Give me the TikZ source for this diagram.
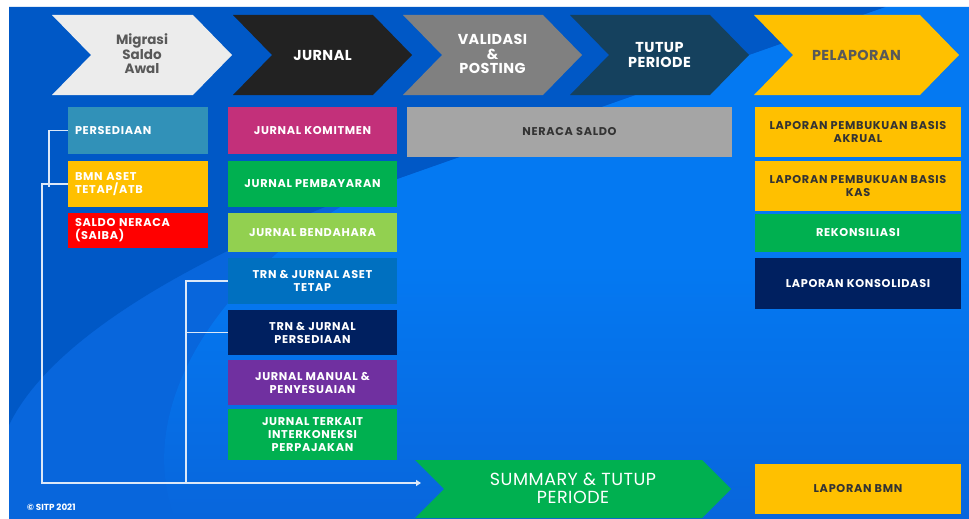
\documentclass[tikz,border=0pt]{standalone}
\usepackage{fontspec}
\setmainfont{Poppins}
\usetikzlibrary{arrows.meta,calc}
\definecolor{bgDark}{HTML}{0058C6}
\definecolor{bgMid}{HTML}{0866DC}
\definecolor{bgBright}{HTML}{0479F2}
\definecolor{cLight}{HTML}{ECECEC}
\definecolor{cBlack}{HTML}{222222}
\definecolor{cGrey}{HTML}{808080}
\definecolor{cTeal}{HTML}{15415E}
\definecolor{cYellow}{HTML}{FFC000}
\definecolor{cPers}{HTML}{3191B8}
\definecolor{cRed}{HTML}{FF0000}
\definecolor{cMag}{HTML}{C3307A}
\definecolor{cGreen}{HTML}{00B050}
\definecolor{cLime}{HTML}{92D050}
\definecolor{cBlue}{HTML}{0070C0}
\definecolor{cNavy}{HTML}{002060}
\definecolor{cPurple}{HTML}{7030A0}
\definecolor{cNeraca}{HTML}{A5A5A5}
\definecolor{cDarkTxt}{HTML}{333333}
\definecolor{cChevTxt}{HTML}{595959}
\definecolor{cLine}{HTML}{DCE8F8}
\newcommand\chevshape[5]{%
  \fill[#5] (#1,#3) -- ({#2-39},#3) -- (#2,{(#3+#4)/2}) -- ({#2-39},#4) -- (#1,#4) -- ({#1+39},{(#3+#4)/2}) -- cycle;}
\begin{document}
\begin{tikzpicture}[x=1pt,y=-1pt,
  box/.style={rectangle, inner sep=0pt, align=center, text=white,
    font=\bfseries\fontsize{11.3}{13}\selectfont\addfontfeatures{LetterSpace=6}},
  chevlabel/.style={align=center, font=\bfseries\fontsize{14.4}{14.5}\selectfont\addfontfeatures{LetterSpace=3}},
  conn/.style={draw=cLine, line width=1.6pt}]
\useasboundingbox (0,0) rectangle (969,519);
\fill[white] (0,0) rectangle (969,519);
% background
\fill[bgMid] (9,7) rectangle (969,519);
\shade[top color=bgBright, bottom color=bgMid, middle color=bgBright]
  (885,7) -- (969,7) -- (969,519) -- (175,519) .. controls (130,400) and (230,260) .. (380,185) -- cycle;
\fill[bgDark] (9,7) -- (885,7) -- (380,185) .. controls (250,235) and (60,320) .. (9,425) -- cycle;
% top chevrons
\chevshape{52}{232}{15}{95}{cLight}
\chevshape{233}{412}{15}{95}{cBlack}
\chevshape{403}{582}{15}{95}{cGrey}
\chevshape{570}{749}{15}{95}{cTeal}
\chevshape{754}{959}{15}{95}{cYellow}
\node[chevlabel, text=cChevTxt, font=\bfseries\fontsize{13.5}{14.5}\selectfont] (migrasi) at (142,54) {Migrasi\\Saldo\\Awal};
\node[chevlabel, text=white] (jurnal) at (322.5,55) {JURNAL};
\node[chevlabel, text=white] (validasi) at (492.5,54) {VALIDASI\\\&\\POSTING};
\node[chevlabel, text=white] (tutup) at (659.5,55) {TUTUP\\PERIODE};
\node[chevlabel, text=cChevTxt] (pelaporan) at (856.5,55) {PELAPORAN};
% left column
\node[box, fill=cPers, minimum width=140, minimum height=47, text width=126, align=left] (pers) at (138,130.5) {PERSEDIAAN};
\node[box, fill=cYellow, minimum width=140, minimum height=46, text width=126, align=left] (bmn) at (138,184) {BMN ASET\\TETAP/ATB};
\node[box, fill=cRed, minimum width=140, minimum height=35, text width=126, align=left] (saiba) at (138,230.5) {SALDO NERACA\\(SAIBA)};
% middle column
\node[box, fill=cMag, minimum width=169, minimum height=47] (komit) at (312.5,130.5) {JURNAL KOMITMEN};
\node[box, fill=cGreen, minimum width=169, minimum height=46] (bayar) at (312.5,184) {JURNAL PEMBAYARAN};
\node[box, fill=cLime, minimum width=169, minimum height=39] (benda) at (312.5,232.5) {JURNAL BENDAHARA};
\node[box, fill=cBlue, minimum width=169, minimum height=46] (trna) at (312.5,281) {TRN \& JURNAL ASET\\TETAP};
\node[box, fill=cNavy, minimum width=169, minimum height=45] (trnp) at (312.5,332.5) {TRN \& JURNAL\\PERSEDIAAN};
\node[box, fill=cPurple, minimum width=169, minimum height=45] (manual) at (312.5,382.5) {JURNAL MANUAL \&\\PENYESUAIAN};
\node[box, fill=cGreen, minimum width=169, minimum height=51] (terkait) at (312.5,434.5) {JURNAL TERKAIT\\INTERKONEKSI\\PERPAJAKAN};
% neraca saldo
\node[box, fill=cNeraca, text=cDarkTxt, minimum width=325, minimum height=50] (neraca) at (569.5,132) {NERACA SALDO};
% right column
\node[box, fill=cYellow, text=cDarkTxt, minimum width=206, minimum height=50] (akrual) at (858,132) {LAPORAN PEMBUKUAN BASIS\\AKRUAL};
\node[box, fill=cYellow, text=cDarkTxt, minimum width=206, minimum height=50] (kas) at (858,186) {LAPORAN PEMBUKUAN BASIS\\KAS};
\node[box, fill=cGreen, minimum width=206, minimum height=38] (rekon) at (858,233) {REKONSILIASI};
\node[box, fill=cNavy, minimum width=206, minimum height=51] (konsol) at (858,283.5) {LAPORAN KONSOLIDASI};
\node[box, fill=cYellow, text=cDarkTxt, minimum width=206, minimum height=50] (lapbmn) at (858,489) {LAPORAN BMN};
% summary chevron
\fill[cGreen] (415,460) -- (702,460) -- (731,489) -- (702,518) -- (415,518) -- (444,489) -- cycle;
\node[align=center, text=white, font=\fontsize{17.5}{17.5}\selectfont\addfontfeatures{LetterSpace=3}] (summary) at (573,488.5) {SUMMARY \& TUTUP\\PERIODE};
% connectors
\coordinate (j1) at (49,187);
\coordinate (c1) at (42,483);
\coordinate (c2) at (186,483);
\coordinate (sumin) at (421,483);
\draw[conn] (pers.west) -| (j1);
\draw[conn, -{Triangle[length=5pt,width=6pt]}] (bmn.west) -| (c1) -- (sumin);
\draw[conn] (trna.west) -| (c2);
\draw[conn] (trnp.west) -- (trnp.west -| c2);
% copyright
\node[anchor=west, text=white, font=\bfseries\fontsize{8.8}{9}\selectfont, inner sep=0pt] (copy) at (27,507) {© SITP 2021};
\end{tikzpicture}
\end{document}
